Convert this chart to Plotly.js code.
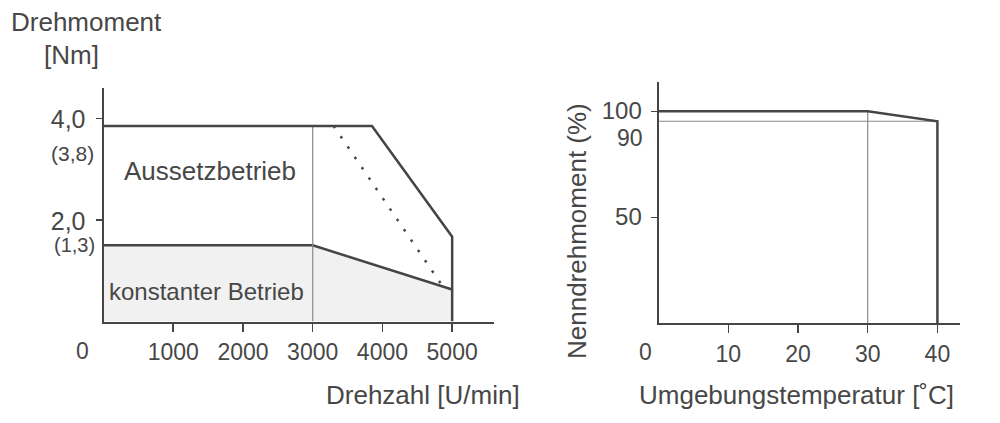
<!DOCTYPE html>
<html>
<head>
<meta charset="utf-8">
<script src="https://cdn.plot.ly/plotly-3.0.1.min.js"></script>
<style>html,body{margin:0;padding:0;background:#fff}#chart{width:1000px;height:423px}</style>
</head>
<body>
<div id="chart"></div>
<script>
// ---- Left chart: torque vs speed ----
const speedTicks = [1000, 2000, 3000, 4000, 5000];
const torqueTicks = [2, 4];
const torqueTickText = ["2,0", "4,0"];
const intermittentX = [0, 3850, 5000, 5000];
const intermittentY = [3.85, 3.85, 1.67, 0];
const continuousX = [0, 3000, 5000];
const continuousY = [1.5, 1.5, 0.63];
const dottedX = [3300, 4870];
const dottedY = [3.85, 0.68];
const dividerX = [3000, 3000];
const dividerY = [0, 3.85];

// ---- Right chart: rated torque vs ambient temperature ----
const tempTicks = [10, 20, 30, 40];
const pctTicks = [50, 100];
const deratingX = [0, 30, 40, 40];
const deratingY = [100, 100, 95.3, 0];
const refLineX = [0, 40];
const refLineY = [95.3, 95.3];
const tempDividerX = [30, 30];
const tempDividerY = [0, 100];

const dark = '#454545';
const thin = '#8a8a8a';
const txt = '#474747';
const FONT = 'Liberation Sans, Arial, Helvetica, sans-serif';

const traces = [
  {x: continuousX, y: continuousY, xaxis: 'x', yaxis: 'y', mode: 'lines', fill: 'tozeroy',
   fillcolor: '#f1f1f1', line: {color: dark, width: 2.5}, hoverinfo: 'skip'},
  {x: dividerX, y: dividerY, xaxis: 'x', yaxis: 'y', mode: 'lines', line: {color: thin, width: 1.2}, hoverinfo: 'skip'},
  {x: intermittentX, y: intermittentY, xaxis: 'x', yaxis: 'y', mode: 'lines', line: {color: dark, width: 2.5}, hoverinfo: 'skip'},
  {x: dottedX, y: dottedY, xaxis: 'x', yaxis: 'y', mode: 'lines', line: {color: dark, width: 2.5, dash: '2.5px,10px'}, hoverinfo: 'skip'},
  {x: refLineX, y: refLineY, xaxis: 'x2', yaxis: 'y2', mode: 'lines', line: {color: thin, width: 1.2}, hoverinfo: 'skip'},
  {x: tempDividerX, y: tempDividerY, xaxis: 'x2', yaxis: 'y2', mode: 'lines', line: {color: thin, width: 1.2}, hoverinfo: 'skip'},
  {x: deratingX, y: deratingY, xaxis: 'x2', yaxis: 'y2', mode: 'lines', line: {color: dark, width: 2.5}, hoverinfo: 'skip'}
];

function px(x) { return x / 1000; }
function py(y) { return 1 - y / 423; }

const axisCommon = {
  showline: true, linecolor: dark, linewidth: 2, showgrid: false, zeroline: false,
  ticks: 'outside', tickcolor: dark, tickwidth: 1.5, fixedrange: true
};

const layout = {
  width: 1000, height: 423,
  margin: {l: 0, r: 0, t: 0, b: 0},
  paper_bgcolor: '#fff', plot_bgcolor: 'rgba(0,0,0,0)',
  showlegend: false,
  font: {family: FONT, color: txt},
  xaxis: Object.assign({}, axisCommon, {
    domain: [0.1035, 0.494], range: [0, 5600], anchor: 'y',
    tickvals: speedTicks, ticklen: 8, tickfont: {size: 23, color: txt}, ticklabelstandoff: 1
  }),
  yaxis: Object.assign({}, axisCommon, {
    domain: [0.23995, 0.79243], range: [0, 4.6], anchor: 'x',
    tickvals: torqueTicks, ticktext: torqueTickText, ticklen: 6, tickfont: {size: 25, color: txt},
    ticklabelstandoff: 5, ticklabelshift: 1
  }),
  xaxis2: Object.assign({}, axisCommon, {
    domain: [0.6586, 0.9604], range: [0, 43.3], anchor: 'y2',
    tickvals: tempTicks, ticklen: 8, tickfont: {size: 23, color: txt}, ticklabelstandoff: 1
  }),
  yaxis2: Object.assign({}, axisCommon, {
    domain: [0.2357, 0.8071], range: [0, 114], anchor: 'x2',
    tickvals: pctTicks, ticklen: 6, tickfont: {size: 24, color: txt}, ticklabelstandoff: 4, ticklabelshift: -1
  }),
  annotations: [
    {text: 'Drehmoment', xref: 'paper', yref: 'paper', x: px(86), y: py(22), xanchor: 'center', yanchor: 'middle', showarrow: false, font: {size: 26, color: txt}},
    {text: '[Nm]', xref: 'paper', yref: 'paper', x: px(71), y: py(55), xanchor: 'center', yanchor: 'middle', showarrow: false, font: {size: 26, color: txt}},
    {text: '(3,8)', xref: 'paper', yref: 'paper', x: px(96), y: py(153), xanchor: 'right', yanchor: 'middle', showarrow: false, font: {size: 21, color: txt}},
    {text: '(1,3)', xref: 'paper', yref: 'paper', x: px(96), y: py(245), xanchor: 'right', yanchor: 'middle', showarrow: false, borderpad: 0, font: {size: 20, color: txt}},
    {text: '0', xref: 'paper', yref: 'paper', x: px(82), y: py(351), xanchor: 'center', yanchor: 'middle', showarrow: false, font: {size: 23, color: txt}},
    {text: 'Aussetzbetrieb', xref: 'paper', yref: 'paper', x: px(210), y: py(171), xanchor: 'center', yanchor: 'middle', showarrow: false, font: {size: 26, color: txt}},
    {text: 'konstanter Betrieb', xref: 'paper', yref: 'paper', x: px(206), y: py(291), xanchor: 'center', yanchor: 'middle', showarrow: false, font: {size: 24, color: txt}},
    {text: 'Drehzahl [U/min]', xref: 'paper', yref: 'paper', x: px(423), y: py(395), xanchor: 'center', yanchor: 'middle', showarrow: false, font: {size: 26, color: txt}},
    {text: '0', xref: 'paper', yref: 'paper', x: px(645), y: py(352), xanchor: 'center', yanchor: 'middle', showarrow: false, font: {size: 23, color: txt}},
    {text: '90', xref: 'paper', yref: 'paper', x: px(643.5), y: py(138), xanchor: 'right', yanchor: 'middle', showarrow: false, borderpad: 0, font: {size: 23, color: txt}},
    {text: 'Umgebungstemperatur [˚C]', xref: 'paper', yref: 'paper', x: px(796), y: py(395), xanchor: 'center', yanchor: 'middle', showarrow: false, font: {size: 26, color: txt}},
    {text: 'Nenndrehmoment (%)', xref: 'paper', yref: 'paper', x: px(577), y: py(231), xanchor: 'center', yanchor: 'middle', textangle: -90, showarrow: false, font: {size: 26, color: txt}}
  ]
};

Plotly.newPlot('chart', traces, layout, {displayModeBar: false, staticPlot: true});
</script>
</body>
</html>
